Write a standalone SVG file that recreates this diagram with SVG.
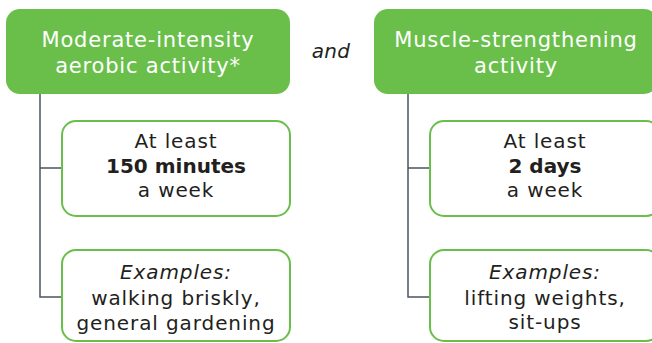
<svg xmlns="http://www.w3.org/2000/svg" width="652" height="343" viewBox="0 0 652 343">
<style>
.hdr{fill:#6abf4b}
.box{fill:#fff;stroke:#6abf4b;stroke-width:2}
.ht{font-family:"DejaVu Sans","Liberation Sans",sans-serif;font-size:21px;letter-spacing:0.8px;fill:#fff;text-anchor:middle}
.bt{font-family:"DejaVu Sans","Liberation Sans",sans-serif;font-size:20px;letter-spacing:0.9px;fill:#231f20;text-anchor:middle}
.b{font-weight:bold;letter-spacing:0}
.i{font-style:italic}
.con{fill:none;stroke:#4a5560;stroke-width:1.5}
</style>
<rect width="652" height="343" fill="#fff"/>
<g id="connectors">
<path class="con" d="M40 94V297H62M40 168H62"/>
<path class="con" d="M408 94V297H430M408 168H430"/>
</g>
<g id="left-header">
<rect class="hdr" x="6" y="9" width="284" height="85" rx="14"/>
<text class="ht" x="148" y="47">Moderate-intensity</text>
<text class="ht" x="148" y="73">aerobic activity*</text>
</g>
<text id="and" class="bt i" x="331" y="58" style="letter-spacing:0.3px">and</text>
<g id="right-header">
<rect class="hdr" x="374" y="9" width="284" height="85" rx="14"/>
<text class="ht" x="516" y="47">Muscle-strengthening</text>
<text class="ht" x="516" y="73">activity</text>
</g>
<g id="left-time">
<rect class="box" x="62" y="121" width="228" height="95" rx="14"/>
<text class="bt" x="176" y="148">At least</text>
<text class="bt b" x="176" y="173">150 minutes</text>
<text class="bt" x="176" y="197">a week</text>
</g>
<g id="left-examples">
<rect class="box" x="62" y="250" width="228" height="91" rx="14"/>
<text class="bt i" x="176" y="279">Examples:</text>
<text class="bt" x="176" y="305">walking briskly,</text>
<text class="bt" x="176" y="330">general gardening</text>
</g>
<g id="right-time">
<rect class="box" x="430" y="121" width="230" height="95" rx="14"/>
<text class="bt" x="545" y="148">At least</text>
<text class="bt b" x="545" y="173">2 days</text>
<text class="bt" x="545" y="197">a week</text>
</g>
<g id="right-examples">
<rect class="box" x="430" y="250" width="230" height="91" rx="14"/>
<text class="bt i" x="545" y="279">Examples:</text>
<text class="bt" x="545" y="305">lifting weights,</text>
<text class="bt" x="545" y="329">sit-ups</text>
</g>
</svg>
